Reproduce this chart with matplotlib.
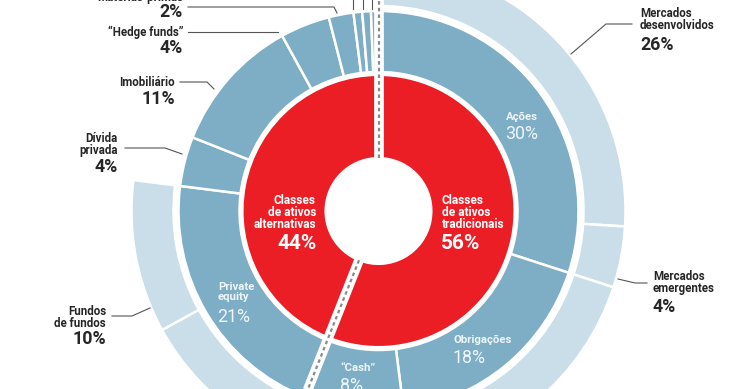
import matplotlib
matplotlib.use("Agg")
import matplotlib.pyplot as plt
import numpy as np

# ---------------- data ----------------
inner_labels = ["Classes\nde ativos\ntradicionais", "Classes\nde ativos\nalternativas"]
inner_values = [56, 44]

middle_labels = ["Ações", "Obrigações", "\u201cCash\u201d", "Private\nequity", "Dívida\nprivada",
                 "Imobiliário", "\u201cHedge funds\u201d", "Matérias-primas", "Outro 1", "Outro 2", "Outro 3"]
middle_values = [30, 18, 8, 21, 4, 11, 4, 2, 0.7, 0.7, 0.6]

outer_labels = ["Mercados\ndesenvolvidos", "Mercados\nemergentes", "Obrigações (det.)", "",
                "Private equity (outros)", "Fundos\nde fundos", "", "", "", "", ""]
outer_values = [26, 4, 18, 8, 11, 10, 4, 11, 4, 2, 2]
outer_shown = [True, True, True, False, True, True, False, False, False, False, False]

# ---------------- style ----------------
W, H = 740, 389
RED = "#EB1D25"
MID = "#7DAEC6"
LIGHT = "#C9DEE8"
DARK = "#262626"
TXT_ON_BLUE = "#EEF5F9"
GRAY = "#555555"

plt.rcParams['font.family'] = ['Roboto', 'DejaVu Sans']

fig = plt.figure(figsize=(W / 100, H / 100), dpi=100)
ax = fig.add_axes([0, 0, 1, 1])

def Y(y):
    return H - y

cx, cy = 378.5, Y(211)
r_hole, r_in = 53, 136
r_mid_in, r_mid = 139, 200
r_out_in, r_out = 205, 247

common = dict(startangle=90, counterclock=False, center=(cx, cy))

ax.pie(inner_values, radius=r_in, colors=[RED, RED],
       wedgeprops=dict(width=r_in - r_hole, edgecolor="white", linewidth=1.5), **common)
ax.pie(middle_values, radius=r_mid, colors=[MID] * len(middle_values),
       wedgeprops=dict(width=r_mid - r_mid_in, edgecolor="white", linewidth=1.8), **common)
wedges, _ = ax.pie(outer_values, radius=r_out, colors=[LIGHT] * len(outer_values),
                   wedgeprops=dict(width=r_out - r_out_in, edgecolor="white", linewidth=1.8), **common)
for w, s in zip(wedges, outer_shown):
    w.set_visible(s)

# separation band between the two halves, with dashed line
split_angles = [90, 90 - 360 * inner_values[0] / sum(inner_values)]
for a in split_angles:
    t = np.deg2rad(a)
    x0, y0 = cx + r_hole * np.cos(t), cy + r_hole * np.sin(t)
    x1, y1 = cx + 300 * np.cos(t), cy + 300 * np.sin(t)
    ax.plot([x0, x1], [y0, y1], color="white", lw=7, solid_capstyle="butt", zorder=5)
    ax.plot([x0, x1], [y0, y1], color="#8a8a8a", lw=1.6, dashes=(1.6, 1.4), zorder=6)

ax.set_xlim(0, W)
ax.set_ylim(0, H)
ax.set_aspect("equal")
ax.axis("off")

# ---------------- leader lines ----------------
def leader(pts):
    xs = [p[0] for p in pts]
    ys = [Y(p[1]) for p in pts]
    ax.plot(xs, ys, color=GRAY, lw=0.8, zorder=7)

leader([(188, 7), (334, 7), (337, 13)])
for x in (353, 363, 372):
    leader([(x, -5), (x, 9)])
leader([(188, 32), (278, 32)])
leader([(180, 82), (207, 82), (214, 89)])
leader([(125, 148), (165, 148), (182, 154)])
leader([(112, 316), (132, 316), (150, 308)])
leader([(632, 24), (606, 24), (571, 54)])
leader([(647, 283), (635, 283), (618, 279)])

# ---------------- outer labels ----------------
NAME = dict(fontsize=8.3, color=DARK, fontweight="bold", linespacing=0.92)
PCT = dict(fontsize=12.8, color=DARK, fontweight="bold")

def lab(x, yc, name, pct, py, ha):
    if name:
        ax.text(x, Y(yc), name, ha=ha, va="center", multialignment=ha, **NAME)
    ax.text(x, Y(py), pct, ha=ha, va="center", **PCT)

ax.text(183, Y(1), middle_labels[7], ha="right", va="baseline", **NAME)
lab(183, 0, "", "2%", 12, "right")
lab(183, 32, middle_labels[6], "4%", 48, "right")
lab(175, 82, middle_labels[5], "11%", 99, "right")
lab(118, 144.5, middle_labels[4], "4%", 167, "right")
lab(106, 317.5, outer_labels[5], "10%", 339, "right")
lab(640, 19.5, outer_labels[0], "26%", 45, "left")
lab(653, 282.5, outer_labels[1], "4%", 307, "left")

# ---------------- inner labels ----------------
WN = dict(fontsize=8.6, color="white", fontweight="bold", linespacing=0.92)
WP = dict(fontsize=15, color="white", fontweight="bold")
ax.text(316, Y(212.5), inner_labels[1], ha="right", va="center", multialignment="right", **WN)
ax.text(317, Y(243), "44%", ha="right", va="center", **WP)
ax.text(442, Y(212.5), inner_labels[0], ha="left", va="center", multialignment="left", **WN)
ax.text(441, Y(243), "56%", ha="left", va="center", **WP)

BN = dict(fontsize=8.2, color=TXT_ON_BLUE, fontweight="bold", linespacing=0.92)
BP = dict(fontsize=12.8, color=TXT_ON_BLUE)
ax.text(522, Y(117), middle_labels[0], ha="center", va="center", **BN)
ax.text(522, Y(134), "30%", ha="center", va="center", **BP)
ax.text(454, Y(340), middle_labels[1], ha="left", va="center", **BN)
ax.text(453, Y(358), "18%", ha="left", va="center", **BP)
ax.text(340, Y(368), middle_labels[2], ha="left", va="center", **BN)
ax.text(340, Y(386), "8%", ha="left", va="center", **BP)
ax.text(218, Y(292), middle_labels[3], ha="left", va="center", multialignment="left", **BN)
ax.text(217, Y(317), "21%", ha="left", va="center", **BP)

fig.savefig("out.png", dpi=100)
